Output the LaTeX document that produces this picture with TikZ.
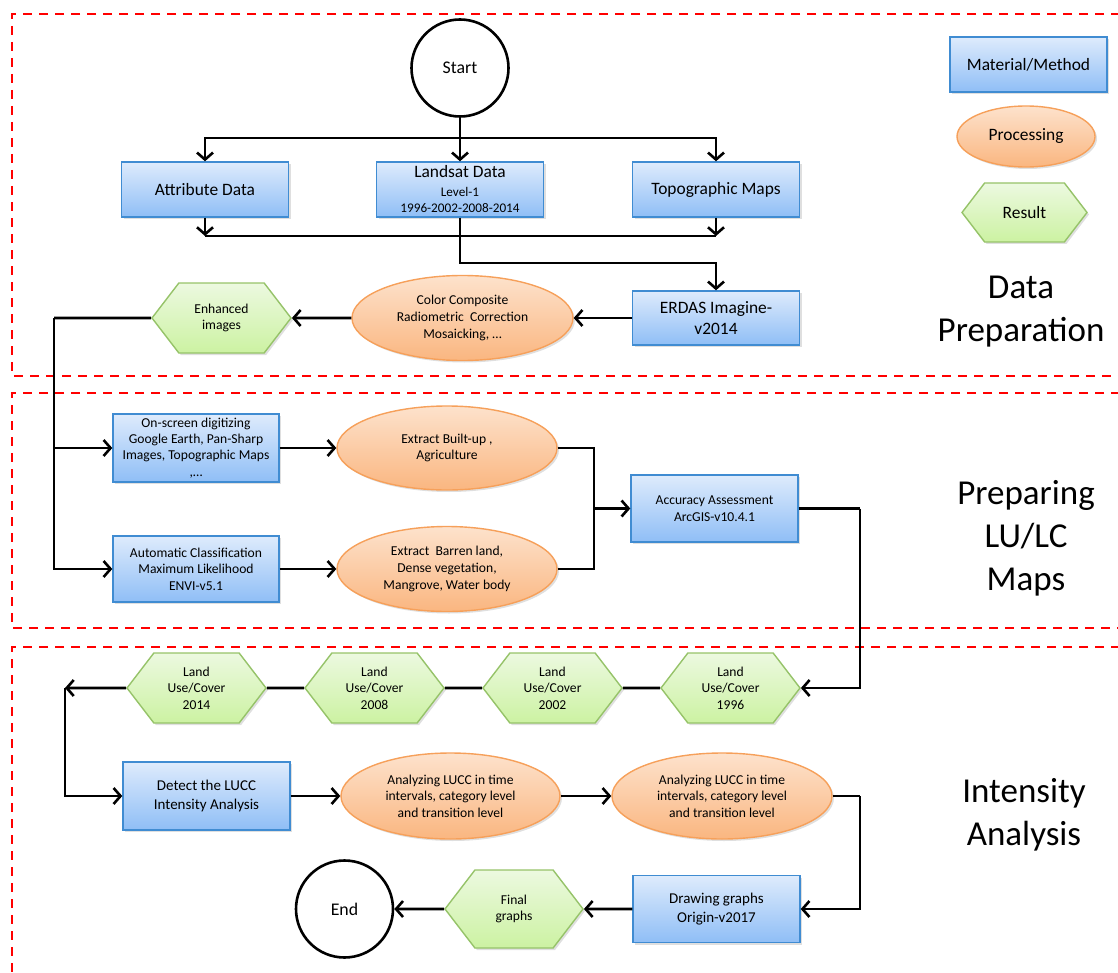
\documentclass[tikz,border=0pt]{standalone}
\usepackage{fontspec}
\setmainfont{Carlito}
\usetikzlibrary{shapes.geometric,shapes.symbols,shadows,arrows.meta}

\definecolor{boxtop}{RGB}{222,235,252}
\definecolor{boxbot}{RGB}{143,190,246}
\definecolor{boxline}{RGB}{64,140,210}
\definecolor{proctop}{RGB}{253,226,204}
\definecolor{procbot}{RGB}{250,182,128}
\definecolor{procline}{RGB}{246,160,90}
\definecolor{restop}{RGB}{236,249,224}
\definecolor{resbot}{RGB}{204,242,162}
\definecolor{resline}{RGB}{150,195,105}

\begin{document}
\begin{tikzpicture}[x=0.5pt,y=-0.5pt]

  \tikzstyle{material}=[shape=rectangle, draw=boxline, line width=0.7pt, top color=boxtop, bottom color=boxbot, minimum width=83.5pt, minimum height=27.5pt, inner sep=1pt, align=center, font=\fontsize{8.7}{10.4}\selectfont, drop shadow={shadow xshift=1pt, shadow yshift=-1pt, opacity=0.25}]

  \tikzstyle{process}=[shape=ellipse, draw=procline, line width=0.7pt, top color=proctop, bottom color=procbot, inner sep=0pt, align=center, font=\fontsize{6.8}{8.3}\selectfont, drop shadow={shadow xshift=1pt, shadow yshift=-1pt, opacity=0.25}]

  \tikzstyle{result}=[shape=signal, signal to=west and east, signal pointer angle=105, draw=resline, line width=0.7pt, top color=restop, bottom color=resbot, inner sep=0pt, align=center, font=\fontsize{6.8}{8.3}\selectfont, drop shadow={shadow xshift=1pt, shadow yshift=-1pt, opacity=0.25}]

  \tikzstyle{terminal}=[shape=circle, draw, line width=1.3pt, minimum size=48.5pt, inner sep=0pt, font=\fontsize{8.9}{10.4}\selectfont]

  \tikzstyle{title}=[align=center, font=\fontsize{17.5}{21.5}\selectfont]

  \tikzstyle{frame}=[draw=red, line width=1pt, dash pattern=on 4.5pt off 3.5pt]

  \tikzstyle{lineDecorate}=[draw, line width=1.3pt, -{Straight Barb[length=3.5pt,width=8pt]}]

  \tikzstyle{lineJoin}=[draw, line width=1.3pt]

\useasboundingbox (0,0) rectangle (1118,973);

%% dashed panels
\draw[frame] (1120,14) -- (12,14) -- (12,376) -- (1120,376);
\draw[frame] (1120,393) -- (12,393) -- (12,628) -- (1120,628);
\draw[frame] (1120,647) -- (12,647) -- (12,975);

%% nodes or vertices: data preparation
\node (S)[terminal] at (460,68) {Start};
\node (A)[material] at (205,189.5) {Attribute Data};
\node (B)[material, font=\fontsize{6.6}{8}\selectfont] at (460,189.5) {{\fontsize{8.7}{10}\selectfont Landsat Data}\\[1.5pt]Level-1\\1996-2002-2008-2014};
\node (C)[material] at (716,189.5) {Topographic Maps};
\node (D)[material, minimum height=27pt] at (716,318) {ERDAS Imagine-\\v2014};
\node (E)[process, minimum width=110.5pt, minimum height=42.5pt] at (462.5,318) {Color Composite\\Radiometric~~Correction\\Mosaicking, …};
\node (F)[result, minimum width=69.5pt, minimum height=35pt] at (221.5,318) {Enhanced\\images};

%% legend
\node (L1)[material, minimum width=78.5pt] at (1028.5,64.5) {Material/Method};
\node (L2)[process, minimum width=69pt, minimum height=30.5pt, font=\fontsize{8.7}{10.4}\selectfont] at (1026,136.5) {Processing};
\node (L3)[result, minimum width=62.5pt, minimum height=29.5pt, font=\fontsize{8.7}{10.4}\selectfont] at (1024.5,212.5) {Result};
\node (T1)[title] at (1021,312) {Data\\Preparation};

%% nodes or vertices: LU/LC maps
\node (G)[material, minimum width=83pt, minimum height=34pt, font=\fontsize{6.8}{8.1}\selectfont] at (196,448) {On-screen digitizing\\Google Earth, Pan-Sharp\\Images, Topographic Maps\\,…};
\node (H)[material, minimum width=83pt, minimum height=33pt, font=\fontsize{6.8}{8.3}\selectfont] at (196,569) {Automatic Classification\\Maximum Likelihood\\ENVI-v5.1};
\node (I)[process, minimum width=110pt, minimum height=42pt] at (447,448) {Extract Built-up ,\\Agriculture};
\node (J)[process, minimum width=110pt, minimum height=42.5pt] at (447,569) {Extract~~Barren land,\\Dense vegetation,\\Mangrove, Water body};
\node (K)[material, minimum height=33.5pt, font=\fontsize{6.8}{8.3}\selectfont] at (714.5,508.5) {Accuracy Assessment\\ArcGIS-v10.4.1};
\node (T2)[title] at (1026,538) {Preparing\\LU/LC\\Maps};

%% nodes or vertices: intensity analysis
\node (M)[result, minimum width=69.5pt, minimum height=35pt] at (730.5,688) {Land\\Use/Cover\\1996};
\node (N)[result, minimum width=69.5pt, minimum height=35pt] at (552.5,688) {Land\\Use/Cover\\2002};
\node (O)[result, minimum width=69.5pt, minimum height=35pt] at (374.5,688) {Land\\Use/Cover\\2008};
\node (P)[result, minimum width=69.5pt, minimum height=35pt] at (196.5,688) {Land\\Use/Cover\\2014};
\node (Q)[material, minimum height=34pt, font=\fontsize{7.5}{9.2}\selectfont] at (206.5,796) {Detect the LUCC\\Intensity Analysis};
\node (R)[process, minimum width=109.5pt, minimum height=43pt] at (450.5,796) {Analyzing LUCC in time\\intervals, category level\\and transition level};
\node (U)[process, minimum width=110pt, minimum height=43pt] at (722,796) {Analyzing LUCC in time\\intervals, category level\\and transition level};
\node (V)[material, minimum height=33.5pt, font=\fontsize{7.5}{9.2}\selectfont] at (716.5,909) {Drawing graphs\\Origin-v2017};
\node (W)[result, minimum width=69pt, minimum height=39pt] at (514,909) {Final\\graphs};
\node (X)[terminal] at (344.5,909) {End};
\node (T3)[title] at (1024,815) {Intensity\\Analysis};

%% bends
\coordinate (s1) at (460,138);
\coordinate (m1) at (460,236);
\coordinate (m2) at (460,263);
\coordinate (t1) at (54,318);
\coordinate (k1) at (594,508.5);
\coordinate (k2) at (860,508.5);
\coordinate (p1) at (65,688);
\coordinate (u1) at (860,796);

%% edges or lines
\path
	(S) edge[lineDecorate] (B)
	(D) edge[lineDecorate] (E)
	(E) edge[lineDecorate] (F)
	(G) edge[lineDecorate] (I)
	(H) edge[lineDecorate] (J)
	(k1) edge[lineDecorate] (K)
	(M) edge[lineJoin] (N)
	(N) edge[lineJoin] (O)
	(O) edge[lineJoin] (P)
	(P) edge[lineDecorate] (p1)
	(Q) edge[lineDecorate] (R)
	(R) edge[lineDecorate] (U)
	(V) edge[lineDecorate] (W)
	(W) edge[lineDecorate] (X)
;

\draw[lineDecorate] (s1) -| (A);
\draw[lineDecorate] (s1) -| (C);
\draw[lineDecorate] (A) -- (A |- m1);
\draw[lineDecorate] (C) -- (C |- m1);
\draw[lineJoin] (A |- m1) -- (C |- m1);
\draw[lineDecorate] (B) -- (m2) -| (D);
\draw[lineJoin] (F) -- (t1);
\draw[lineDecorate] (t1) |- (G);
\draw[lineDecorate] (t1) |- (H);
\draw[lineJoin] (I) -| (k1);
\draw[lineJoin] (J) -| (k1);
\draw[lineJoin] (K) -- (k2);
\draw[lineDecorate] (k2) |- (M);
\draw[lineDecorate] (p1) |- (Q);
\draw[lineJoin] (U) -- (u1);
\draw[lineDecorate] (u1) |- (V);

\end{tikzpicture}
\end{document}
